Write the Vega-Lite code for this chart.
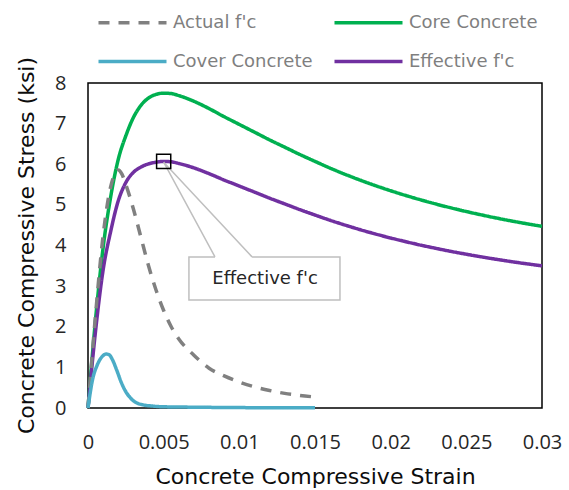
{
  "$schema": "https://vega.github.io/schema/vega-lite/v6.json",
  "width": 454,
  "height": 325,
  "autosize": {"type": "none"},
  "padding": {"left": 88, "top": 83, "right": 27, "bottom": 82},
  "background": "white",
  "config": {
    "view": {"stroke": "black", "strokeWidth": 1.5},
    "axis": {"grid": false, "domain": false, "ticks": false, "labelFont": "Open Sans", "labelFontSize": 20, "labelColor": "#262626", "titleFont": "DejaVu Sans", "titleFontSize": 22, "titleFontWeight": "normal", "titleColor": "#0d0d0d"},
    "legend": {"labelFont": "DejaVu Sans"}
  },
  "datasets": {
    "curves": [
      {"series": "Core Concrete", "strain": 0, "stress": 0},
      {"series": "Core Concrete", "strain": 0.0005, "stress": 2.19},
      {"series": "Core Concrete", "strain": 0.001, "stress": 3.95},
      {"series": "Core Concrete", "strain": 0.0015, "stress": 5.2},
      {"series": "Core Concrete", "strain": 0.002, "stress": 6.12},
      {"series": "Core Concrete", "strain": 0.0025, "stress": 6.7},
      {"series": "Core Concrete", "strain": 0.003, "stress": 7.15},
      {"series": "Core Concrete", "strain": 0.0035, "stress": 7.45},
      {"series": "Core Concrete", "strain": 0.004, "stress": 7.63},
      {"series": "Core Concrete", "strain": 0.0045, "stress": 7.72},
      {"series": "Core Concrete", "strain": 0.005, "stress": 7.75},
      {"series": "Core Concrete", "strain": 0.0055, "stress": 7.74},
      {"series": "Core Concrete", "strain": 0.006, "stress": 7.69},
      {"series": "Core Concrete", "strain": 0.007, "stress": 7.55},
      {"series": "Core Concrete", "strain": 0.008, "stress": 7.37},
      {"series": "Core Concrete", "strain": 0.009, "stress": 7.17},
      {"series": "Core Concrete", "strain": 0.01, "stress": 6.98},
      {"series": "Core Concrete", "strain": 0.011, "stress": 6.79},
      {"series": "Core Concrete", "strain": 0.012, "stress": 6.6},
      {"series": "Core Concrete", "strain": 0.013, "stress": 6.42},
      {"series": "Core Concrete", "strain": 0.014, "stress": 6.24},
      {"series": "Core Concrete", "strain": 0.015, "stress": 6.07},
      {"series": "Core Concrete", "strain": 0.016, "stress": 5.905},
      {"series": "Core Concrete", "strain": 0.017, "stress": 5.751},
      {"series": "Core Concrete", "strain": 0.018, "stress": 5.607},
      {"series": "Core Concrete", "strain": 0.019, "stress": 5.473},
      {"series": "Core Concrete", "strain": 0.02, "stress": 5.348},
      {"series": "Core Concrete", "strain": 0.021, "stress": 5.231},
      {"series": "Core Concrete", "strain": 0.022, "stress": 5.122},
      {"series": "Core Concrete", "strain": 0.023, "stress": 5.02},
      {"series": "Core Concrete", "strain": 0.024, "stress": 4.925},
      {"series": "Core Concrete", "strain": 0.025, "stress": 4.836},
      {"series": "Core Concrete", "strain": 0.026, "stress": 4.753},
      {"series": "Core Concrete", "strain": 0.027, "stress": 4.675},
      {"series": "Core Concrete", "strain": 0.028, "stress": 4.603},
      {"series": "Core Concrete", "strain": 0.029, "stress": 4.535},
      {"series": "Core Concrete", "strain": 0.03, "stress": 4.472},
      {"series": "Effective f'c", "strain": 0, "stress": 0},
      {"series": "Effective f'c", "strain": 0.0005, "stress": 1.9},
      {"series": "Effective f'c", "strain": 0.001, "stress": 3.4},
      {"series": "Effective f'c", "strain": 0.0015, "stress": 4.35},
      {"series": "Effective f'c", "strain": 0.002, "stress": 5.1},
      {"series": "Effective f'c", "strain": 0.0025, "stress": 5.55},
      {"series": "Effective f'c", "strain": 0.003, "stress": 5.8},
      {"series": "Effective f'c", "strain": 0.0035, "stress": 5.93},
      {"series": "Effective f'c", "strain": 0.004, "stress": 6.01},
      {"series": "Effective f'c", "strain": 0.0045, "stress": 6.05},
      {"series": "Effective f'c", "strain": 0.005, "stress": 6.07},
      {"series": "Effective f'c", "strain": 0.0055, "stress": 6.06},
      {"series": "Effective f'c", "strain": 0.006, "stress": 6.02},
      {"series": "Effective f'c", "strain": 0.007, "stress": 5.91},
      {"series": "Effective f'c", "strain": 0.008, "stress": 5.768},
      {"series": "Effective f'c", "strain": 0.009, "stress": 5.611},
      {"series": "Effective f'c", "strain": 0.01, "stress": 5.463},
      {"series": "Effective f'c", "strain": 0.011, "stress": 5.314},
      {"series": "Effective f'c", "strain": 0.012, "stress": 5.165},
      {"series": "Effective f'c", "strain": 0.013, "stress": 5.024},
      {"series": "Effective f'c", "strain": 0.014, "stress": 4.883},
      {"series": "Effective f'c", "strain": 0.015, "stress": 4.75},
      {"series": "Effective f'c", "strain": 0.016, "stress": 4.621},
      {"series": "Effective f'c", "strain": 0.017, "stress": 4.501},
      {"series": "Effective f'c", "strain": 0.018, "stress": 4.388},
      {"series": "Effective f'c", "strain": 0.019, "stress": 4.283},
      {"series": "Effective f'c", "strain": 0.02, "stress": 4.185},
      {"series": "Effective f'c", "strain": 0.021, "stress": 4.094},
      {"series": "Effective f'c", "strain": 0.022, "stress": 4.008},
      {"series": "Effective f'c", "strain": 0.023, "stress": 3.929},
      {"series": "Effective f'c", "strain": 0.024, "stress": 3.854},
      {"series": "Effective f'c", "strain": 0.025, "stress": 3.785},
      {"series": "Effective f'c", "strain": 0.026, "stress": 3.72},
      {"series": "Effective f'c", "strain": 0.027, "stress": 3.659},
      {"series": "Effective f'c", "strain": 0.028, "stress": 3.602},
      {"series": "Effective f'c", "strain": 0.029, "stress": 3.549},
      {"series": "Effective f'c", "strain": 0.03, "stress": 3.5},
      {"series": "Actual f'c", "strain": 0, "stress": 0},
      {"series": "Actual f'c", "strain": 0.0005, "stress": 2.3},
      {"series": "Actual f'c", "strain": 0.001, "stress": 4.25},
      {"series": "Actual f'c", "strain": 0.0015, "stress": 5.45},
      {"series": "Actual f'c", "strain": 0.00175, "stress": 5.75},
      {"series": "Actual f'c", "strain": 0.002, "stress": 5.86},
      {"series": "Actual f'c", "strain": 0.00225, "stress": 5.75},
      {"series": "Actual f'c", "strain": 0.0025, "stress": 5.5},
      {"series": "Actual f'c", "strain": 0.003, "stress": 4.9},
      {"series": "Actual f'c", "strain": 0.0035, "stress": 4.2},
      {"series": "Actual f'c", "strain": 0.004, "stress": 3.5},
      {"series": "Actual f'c", "strain": 0.0045, "stress": 2.9},
      {"series": "Actual f'c", "strain": 0.005, "stress": 2.4},
      {"series": "Actual f'c", "strain": 0.0055, "stress": 2.0},
      {"series": "Actual f'c", "strain": 0.006, "stress": 1.7},
      {"series": "Actual f'c", "strain": 0.007, "stress": 1.3},
      {"series": "Actual f'c", "strain": 0.008, "stress": 0.98},
      {"series": "Actual f'c", "strain": 0.009, "stress": 0.79},
      {"series": "Actual f'c", "strain": 0.01, "stress": 0.64},
      {"series": "Actual f'c", "strain": 0.011, "stress": 0.52},
      {"series": "Actual f'c", "strain": 0.012, "stress": 0.43},
      {"series": "Actual f'c", "strain": 0.013, "stress": 0.36},
      {"series": "Actual f'c", "strain": 0.014, "stress": 0.31},
      {"series": "Actual f'c", "strain": 0.015, "stress": 0.27},
      {"series": "Cover Concrete", "strain": 0, "stress": 0},
      {"series": "Cover Concrete", "strain": 0.0003, "stress": 0.7},
      {"series": "Cover Concrete", "strain": 0.0006, "stress": 1.05},
      {"series": "Cover Concrete", "strain": 0.0009, "stress": 1.25},
      {"series": "Cover Concrete", "strain": 0.0012, "stress": 1.33},
      {"series": "Cover Concrete", "strain": 0.0014, "stress": 1.31},
      {"series": "Cover Concrete", "strain": 0.0016, "stress": 1.2},
      {"series": "Cover Concrete", "strain": 0.0019, "stress": 0.93},
      {"series": "Cover Concrete", "strain": 0.0022, "stress": 0.63},
      {"series": "Cover Concrete", "strain": 0.0025, "stress": 0.4},
      {"series": "Cover Concrete", "strain": 0.0028, "stress": 0.25},
      {"series": "Cover Concrete", "strain": 0.0031, "stress": 0.15},
      {"series": "Cover Concrete", "strain": 0.0036, "stress": 0.08},
      {"series": "Cover Concrete", "strain": 0.0042, "stress": 0.05},
      {"series": "Cover Concrete", "strain": 0.005, "stress": 0.03},
      {"series": "Cover Concrete", "strain": 0.007, "stress": 0.02},
      {"series": "Cover Concrete", "strain": 0.01, "stress": 0.01},
      {"series": "Cover Concrete", "strain": 0.015, "stress": 0.005}
    ],
    "box": [{"x1": 0.00667, "x2": 0.01665, "y1": 2.66, "y2": 3.72, "bx1": 0.00839, "bx2": 0.01084, "label": "Effective f'c", "tx": 0.0117, "ty": 3.18}],
    "wedge": [
      {"order": 1, "strain": 0.00839, "stress": 3.72},
      {"order": 2, "strain": 0.005, "stress": 6.05},
      {"order": 3, "strain": 0.01084, "stress": 3.72}
    ],
    "peak": [{"strain": 0.005, "stress": 6.07}]
  },
  "layer": [
    {
      "data": {"name": "curves"},
      "mark": {"type": "line", "strokeWidth": 3.5, "interpolate": "monotone", "strokeCap": "butt"},
      "encoding": {
        "x": {"field": "strain", "type": "quantitative", "scale": {"domain": [0, 0.03], "nice": false},
          "axis": {"values": [0, 0.005, 0.01, 0.015, 0.02, 0.025, 0.03], "format": "~g", "labelFlush": false, "labelPadding": 24, "title": "Concrete Compressive Strain", "titleX": 227, "titleY": 75, "titleBaseline": "alphabetic", "titleAlign": "center"}},
        "y": {"field": "stress", "type": "quantitative", "scale": {"domain": [0, 8], "nice": false},
          "axis": {"values": [0, 1, 2, 3, 4, 5, 6, 7, 8], "labelFlush": false, "labelPadding": 22, "title": "Concrete Compressive Stress (ksi)", "titleX": -55, "titleY": 162, "titleBaseline": "alphabetic", "titleAlign": "center", "titleAngle": -90}},
        "color": {"field": "series", "type": "nominal",
          "scale": {"domain": ["Actual f'c", "Core Concrete", "Cover Concrete", "Effective f'c"], "range": ["#808080", "#00b050", "#4bacc6", "#7030a0"]},
          "legend": {"orient": "none", "direction": "horizontal", "legendX": 31, "legendY": -74, "columns": 2, "title": null, "symbolType": "M-3,0H3", "symbolSize": 514, "symbolStrokeWidth": 3.5, "labelFontSize": 18, "labelColor": "#7f7f7f", "labelOffset": 27, "columnPadding": 14, "rowPadding": 16}},
        "strokeDash": {"field": "series", "type": "nominal",
          "scale": {"domain": ["Actual f'c", "Core Concrete", "Cover Concrete", "Effective f'c"], "range": [[11, 9], [1, 0], [1, 0], [1, 0]]},
          "legend": {"orient": "none", "direction": "horizontal", "legendX": 31, "legendY": -74, "columns": 2, "title": null}},
        "order": {"field": "strain", "type": "quantitative"}
      }
    },
    {
      "data": {"name": "box"},
      "mark": {"type": "rect", "fill": "white", "stroke": "#bfbfbf", "strokeWidth": 1.5},
      "encoding": {
        "x": {"field": "x1", "type": "quantitative"},
        "x2": {"field": "x2"},
        "y": {"field": "y1", "type": "quantitative"},
        "y2": {"field": "y2"}
      }
    },
    {
      "data": {"name": "box"},
      "mark": {"type": "rule", "stroke": "white", "strokeWidth": 3},
      "encoding": {
        "x": {"field": "bx1", "type": "quantitative"},
        "x2": {"field": "bx2"},
        "y": {"field": "y2", "type": "quantitative"}
      }
    },
    {
      "data": {"name": "wedge"},
      "mark": {"type": "line", "stroke": "#bfbfbf", "strokeWidth": 1.5},
      "encoding": {
        "x": {"field": "strain", "type": "quantitative"},
        "y": {"field": "stress", "type": "quantitative"},
        "order": {"field": "order", "type": "quantitative"}
      }
    },
    {
      "data": {"name": "box"},
      "mark": {"type": "text", "font": "DejaVu Sans", "fontSize": 18, "color": "#262626", "align": "center", "baseline": "middle"},
      "encoding": {
        "x": {"field": "tx", "type": "quantitative"},
        "y": {"field": "ty", "type": "quantitative"},
        "text": {"field": "label"}
      }
    },
    {
      "data": {"name": "peak"},
      "mark": {"type": "point", "shape": "square", "size": 200, "filled": false, "stroke": "black", "strokeWidth": 1.5, "opacity": 1},
      "encoding": {
        "x": {"field": "strain", "type": "quantitative"},
        "y": {"field": "stress", "type": "quantitative"}
      }
    }
  ]
}
